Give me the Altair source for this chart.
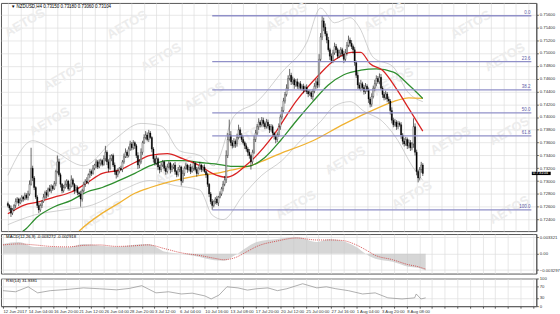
import json
import altair as alt
import pandas as pd

# ---------------- data (prices in pips: 7262 -> 0.7262) ----------------
closes = [
    7262, 7258, 7250, 7255, 7262, 7268, 7272, 7266, 7270, 7275, 7272, 7278, 7274, 7280,
    7295, 7320, 7305,
    7290, 7275, 7262, 7255, 7262, 7268,
    7275, 7282, 7278, 7288, 7285, 7292, 7288, 7296,
    7315, 7330,
    7310, 7295, 7285, 7290,
    7295, 7300, 7288, 7292, 7302, 7295, 7285, 7290, 7282, 7280,
    7272,
    7285, 7295, 7300, 7298, 7310, 7315, 7312, 7320,
    7325, 7330, 7322, 7328, 7332, 7326,
    7335, 7345, 7330, 7320, 7335, 7340, 7325, 7315,
    7310, 7315, 7320, 7318,
    7330, 7338, 7345, 7340, 7350, 7358, 7352, 7360, 7355,
    7340, 7325, 7330, 7345,
    7360, 7368, 7372, 7365, 7375, 7368,
    7350, 7335,
    7328, 7335, 7322, 7318, 7325, 7330, 7320, 7315, 7322, 7328, 7318, 7322,
    7325, 7315, 7310, 7318, 7322, 7300, 7312,
    7320, 7325, 7318, 7322, 7315, 7320, 7328, 7318, 7312, 7320, 7325, 7318, 7322, 7315, 7310,
    7295, 7280, 7268, 7262,
    7268, 7272, 7266, 7275, 7280,
    7288, 7295, 7302,
    7340, 7365, 7372, 7360,
    7355, 7362, 7358, 7368, 7380, 7372, 7365, 7360, 7355, 7350, 7345,
    7340, 7330, 7345, 7365,
    7375, 7385, 7392, 7388, 7395, 7390, 7385, 7392, 7386, 7380, 7385, 7375, 7370,
    7365, 7372,
    7385, 7400, 7410, 7425, 7435, 7445, 7460, 7465,
    7455, 7458, 7450, 7455, 7448, 7452, 7445, 7448, 7442, 7446, 7440, 7436, 7438, 7432, 7440,
    7448, 7455, 7450,
    7490, 7525, 7550,
    7540, 7530, 7520, 7505, 7495, 7488,
    7500, 7510, 7505, 7495,
    7500, 7505, 7498, 7490,
    7500, 7512, 7520, 7515, 7510, 7505,
    7485, 7465, 7450, 7445,
    7452, 7446, 7440, 7448, 7442,
    7428, 7420,
    7432, 7445, 7452, 7460, 7455, 7462,
    7445, 7435,
    7430, 7436, 7428, 7425,
    7410, 7395, 7388,
    7392, 7385, 7390, 7388,
    7372, 7362,
    7358, 7365, 7355, 7360, 7352, 7358,
    7385,
    7345, 7315, 7305,
    7318, 7325, 7312,
]
first_open = 7265

up_wick = [
    3, 2, 4, 3, 2, 5, 3, 2, 4, 3, 2, 4, 3, 5, 6, 32, 4, 3, 2, 3,
    4, 3, 2, 5, 3, 4, 2, 6, 3, 2, 4, 3, 10, 5, 3, 2, 4, 6, 3, 2,
    4, 7, 3, 2, 4, 3, 2, 5, 3, 4, 3, 6, 2, 4, 3, 5, 2, 4, 3, 6,
    3, 2, 5, 10, 3, 4, 6, 2, 3, 4, 3, 5, 2, 4, 3, 5, 6, 3, 4, 5,
    3, 4, 2, 3, 5, 4, 6, 3, 5, 6, 4, 5, 3, 2, 3, 4, 5, 2, 3, 4,
    3, 2, 4, 5, 3, 2, 4, 3, 5, 2, 4, 3, 2, 5, 3, 4, 2, 3, 5, 4,
    3, 2, 4, 3, 5, 2, 3, 4, 2, 3, 2, 3, 4, 2, 3, 5, 2, 4, 3, 5,
    6, 8, 10, 24, 6, 4, 5, 3, 6, 8, 4, 3, 5, 2, 4, 3, 5, 2, 4, 6,
    5, 4, 6, 3, 5, 4, 3, 5, 4, 3, 4, 3, 2, 3, 4, 5, 4, 6, 5, 4,
    6, 5, 10, 4, 5, 3, 4, 5, 3, 4, 3, 4, 3, 5, 2, 4, 3, 4, 5, 4,
    6, 8, 6, 8, 5, 6, 4, 5, 3, 4, 5, 6, 4, 3, 5, 4, 3, 5, 6, 5,
    7, 4, 5, 3, 4, 3, 5, 4, 6, 3, 4, 5, 3, 4, 3, 5, 4, 6, 5, 4,
    6, 5, 3, 4, 5, 3, 4, 3, 5, 4, 5, 3, 4, 3, 4, 3, 5, 4, 3, 5,
    4, 3, 13, 5, 4, 3, 4, 5, 3,
]
dn_wick = [
    3, 4, 6, 3, 2, 4, 3, 5, 2, 3, 4, 2, 3, 4, 3, 2, 5, 4, 3, 4,
    5, 3, 4, 2, 3, 5, 3, 2, 4, 3, 2, 4, 3, 3, 5, 4, 3, 2, 4, 3,
    3, 2, 4, 5, 3, 4, 5, 12, 4, 3, 4, 2, 3, 5, 4, 2, 3, 5, 3, 2,
    4, 3, 2, 4, 5, 6, 3, 4, 3, 5, 6, 4, 3, 2, 4, 3, 2, 4, 3, 3,
    4, 3, 5, 4, 6, 5, 3, 4, 2, 3, 3, 4, 2, 5, 6, 4, 3, 5, 6, 4,
    3, 4, 5, 3, 2, 6, 4, 3, 5, 4, 3, 4, 7, 3, 4, 2, 5, 3, 4, 2,
    4, 3, 5, 2, 3, 4, 3, 2, 5, 4, 5, 4, 7, 3, 4, 3, 5, 2, 3, 4,
    3, 5, 4, 3, 5, 4, 3, 6, 4, 3, 5, 4, 3, 5, 4, 6, 5, 12, 4, 3,
    4, 3, 5, 4, 3, 5, 4, 3, 4, 5, 3, 4, 5, 6, 4, 3, 5, 4, 3, 4,
    3, 4, 3, 5, 4, 6, 3, 4, 5, 3, 4, 5, 3, 4, 5, 3, 4, 6, 3, 4,
    5, 4, 3, 5, 6, 4, 5, 3, 6, 4, 4, 3, 5, 4, 3, 5, 4, 6, 3, 4,
    3, 5, 4, 6, 5, 4, 6, 3, 5, 4, 5, 4, 3, 6, 5, 4, 3, 5, 4, 3,
    4, 3, 5, 4, 3, 5, 4, 6, 5, 4, 3, 5, 4, 3, 6, 5, 4, 3, 5, 4,
    5, 4, 6, 5, 6, 7, 4, 5, 4,
]

# moving averages (candle index, pips)
red_i = [0, 11, 19, 30, 41, 51, 61, 72, 82, 92, 103, 113, 124, 132, 141, 155, 172, 186, 201, 211, 222, 228, 234, 242, 251, 259, 268]
red_v = [7249, 7263, 7267, 7275, 7283, 7297, 7312, 7317, 7329, 7340, 7343, 7335, 7324, 7312, 7306, 7327, 7373, 7424, 7466, 7489, 7501, 7501, 7483, 7473, 7444, 7413, 7378]
green_i = [0, 11, 19, 30, 41, 51, 61, 72, 82, 92, 103, 113, 124, 134, 144, 155, 166, 176, 186, 197, 207, 217, 228, 238, 249, 259, 268]
green_v = [7209, 7224, 7244, 7260, 7270, 7283, 7290, 7301, 7312, 7324, 7332, 7332, 7329, 7327, 7323, 7323, 7337, 7363, 7393, 7424, 7450, 7466, 7473, 7475, 7470, 7450, 7429]
yellow_i = [35, 47, 61, 72, 82, 92, 103, 113, 124, 134, 144, 155, 176, 197, 217, 238, 249, 259, 268]
yellow_v = [7190, 7224, 7250, 7266, 7281, 7290, 7298, 7304, 7309, 7312, 7317, 7323, 7343, 7363, 7389, 7413, 7424, 7430, 7429]

# Bollinger bands
bb_up_i = [0, 16, 30, 49, 68, 86, 99, 111, 124, 133, 146, 161, 177, 193, 202, 211, 221, 227, 236, 249, 258, 268]
bb_up_v = [7309, 7363, 7347, 7324, 7363, 7390, 7386, 7347, 7340, 7324, 7401, 7424, 7470, 7516, 7570, 7547, 7555, 7540, 7493, 7478, 7440, 7424]
bb_lo_i = [0, 17, 36, 55, 74, 92, 108, 124, 132, 139, 152, 164, 177, 189, 202, 211, 221, 230, 242, 252, 261, 268]
bb_lo_v = [7232, 7247, 7255, 7263, 7286, 7301, 7293, 7286, 7247, 7240, 7278, 7309, 7332, 7363, 7393, 7417, 7424, 7409, 7393, 7363, 7324, 7301]

# Fibonacci retracement (drawn from the 11 Jul low candle)
fib_start = 132
fib_levels = [7558, 7486.5, 7442.3, 7406.5, 7370.7, 7255]
fib_labels = ["0.0", "23.6", "38.2", "50.0", "61.8", "100.0"]

# MACD (units of 0.0001)
macd_i = [0, 10, 20, 30, 41, 51, 61, 72, 82, 92, 103, 113, 124, 134, 140, 147, 155, 161, 174, 186, 199, 207, 215, 224, 230, 236, 247, 257, 263, 268]
macd_main = [20, 24, 14, 14, 13, 20, 17, 14, 18, 20, 4, 0, -6, -13, -14, -3, 14, 24, 30, 34, 24, 30, 26, 14, 0, -10, -16, -26, -28, -34]
macd_signal = [18, 20, 18, 15, 14, 17, 18, 15, 16, 18, 10, 2, -3, -9, -12, -8, 5, 15, 26, 32, 28, 28, 27, 18, 8, -3, -12, -22, -26, -31]

# RSI(14)
rsi_i = [0, 8, 16, 22, 30, 40, 51, 61, 72, 80, 88, 97, 105, 113, 120, 128, 132, 137, 142, 149, 155, 161, 168, 174, 180, 190, 199, 205, 211, 219, 228, 236, 244, 253, 261, 262, 265, 268]
rsi_v = [56, 52, 70, 48, 56, 60, 66, 63, 59, 64, 74, 48, 52, 44, 47, 37, 26, 40, 70, 66, 58, 63, 66, 56, 63, 81, 66, 70, 63, 56, 44, 48, 30, 26, 30, 44, 26, 30]

# time axis labels (candle index -> text)
label_idx = [0, 16, 32, 48, 64, 80, 96, 112, 128, 144, 160, 176, 192, 208, 224, 240, 256]
label_txt = ["12 Jun 2017", "14 Jun 04:00", "16 Jun 20:00", "21 Jun 12:00", "26 Jun 04:00",
             "28 Jun 20:00", "3 Jul 12:00", "6 Jul 04:00", "10 Jul 16:00", "13 Jul 08:00",
             "17 Jul 20:00", "20 Jul 12:00", "25 Jul 00:00", "27 Jul 16:00", "1 Aug 04:00",
             "3 Aug 20:00", "8 Aug 08:00"]
price_ticks = [0.7240, 0.7260, 0.7280, 0.7300, 0.7320, 0.7340, 0.7360, 0.7380, 0.7400,
               0.7420, 0.7440, 0.7460, 0.7480, 0.7500, 0.7520, 0.7540, 0.7560]

# watermark positions (candle index, pips)
wm_i = [11, 77, 180, 243, 299, 36, 99, 127, 27, 155, 249, 321, 39, 108, 218, 286, 324, 61, 186, 261, 324]
wm_v = [7547, 7544, 7556, 7556, 7544, 7463, 7493, 7432, 7393, 7370, 7455, 7493, 7340, 7317, 7332, 7363, 7378, 7247, 7263, 7278, 7255]

header = "\u25BC NZDUSD,H4  0.73150 0.73180 0.73060 0.73104"
last_price = "0.73104"

# ---------------- build ----------------
FONT = "Liberation Sans"
W = 542
GRID = "#dedede"
XMAX = 338.125
xs = alt.Scale(domain=[-1.25, XMAX], nice=False, zero=False)
ys = alt.Scale(domain=[0.7222, 0.7578], nice=False, zero=False)

grid_vals = list(range(0, 339, 8))
x_axis_grid = alt.Axis(values=grid_vals, grid=True, gridColor=GRID, gridWidth=0.7,
                       labels=False, ticks=False, domain=False, title=None)
y_axis_main = alt.Axis(orient="right", values=price_ticks, format=".5f", labelFontSize=4.3,
                       labelFont=FONT, labelColor="#333333", tickSize=2, tickColor="#555555",
                       domainColor="#555555", grid=True, gridColor=GRID, gridWidth=0.7,
                       labelPadding=1, title=None)

n = len(closes)
opens = [first_open] + closes[:-1]
cdf = pd.DataFrame({
    "i": list(range(n)),
    "o": [v / 10000 for v in opens],
    "c": [v / 10000 for v in closes],
    "h": [(max(o, c) + u) / 10000 for o, c, u in zip(opens, closes, up_wick)],
    "l": [(min(o, c) - d) / 10000 for o, c, d in zip(opens, closes, dn_wick)],
})
cdf["fill"] = ["#ffffff" if c > o else "#000000" for o, c in zip(cdf["o"], cdf["c"])]


def X(field):
    return alt.X(field, type="quantitative", scale=xs, axis=x_axis_grid)


def Y(field):
    return alt.Y(field, type="quantitative", scale=ys, axis=y_axis_main)


def series(ii, vv, color, width, dash=None, interp="monotone"):
    df = pd.DataFrame({"i": ii, "v": [v / 10000 for v in vv]})
    kw = dict(color=color, strokeWidth=width, interpolate=interp, clip=True)
    if dash:
        kw["strokeDash"] = dash
    return alt.Chart(df).mark_line(**kw).encode(x=X("i"), y=Y("v"))


wm_df = pd.DataFrame({"i": wm_i, "v": [v / 10000 for v in wm_v], "t": ["AETOS"] * len(wm_i)})
watermark = alt.Chart(wm_df).mark_text(font=FONT, fontSize=13, fontWeight="bold", angle=330,
                                       color="#ececec", clip=True).encode(x=X("i"), y=Y("v"), text="t:N")

bb_up = series(bb_up_i, bb_up_v, "#b3b3b3", 0.6)
bb_lo = series(bb_lo_i, bb_lo_v, "#b3b3b3", 0.6)
ma_y = series(yellow_i, yellow_v, "#f0b232", 1.3)
ma_g = series(green_i, green_v, "#2f8f2f", 1.3)
ma_r = series(red_i, red_v, "#d92323", 1.3)

wicks = alt.Chart(cdf).mark_rule(color="#000000", strokeWidth=0.6).encode(x=X("i"), y=Y("l"), y2="h")
bodies = alt.Chart(cdf).mark_bar(size=1.2, stroke="#000000", strokeWidth=0.35).encode(
    x=X("i"), y=Y("o"), y2="c", color=alt.Color("fill:N", scale=None))

fib_df = pd.DataFrame({"x0": [fib_start] * len(fib_levels), "x1": [XMAX] * len(fib_levels),
                       "v": [v / 10000 for v in fib_levels], "t": fib_labels})
fib_lines = alt.Chart(fib_df).mark_rule(color="#9090c8", strokeWidth=1.3).encode(
    x=X("x0"), x2="x1", y=Y("v"))
fib_text = alt.Chart(fib_df).mark_text(font=FONT, fontSize=4.5, color="#5c5ca8", align="right",
                                       baseline="bottom", dx=-1, dy=-0.5).encode(
    x=X("x1"), y=Y("v"), text="t:N")

tag_df = pd.DataFrame({"x0": [XMAX + 0.3], "x1": [XMAX + 12.5], "v": [closes[-1] / 10000],
                       "lo": [(closes[-1] - 2.6) / 10000], "hi": [(closes[-1] + 2.6) / 10000],
                       "t": [last_price]})
tag_box = alt.Chart(tag_df).mark_bar(color="#000000").encode(x=X("x0"), x2="x1", y=Y("lo"), y2="hi")
tag_txt = alt.Chart(tag_df).mark_text(font=FONT, fontSize=4.3, color="#ffffff", align="left",
                                      baseline="middle", dx=1).encode(x=X("x0"), y=Y("v"), text="t:N")

hdr_df = pd.DataFrame({"i": [2], "v": [0.7571], "t": [header]})
hdr = alt.Chart(hdr_df).mark_text(font=FONT, fontSize=4.5, color="#000000", align="left",
                                  baseline="middle").encode(x=X("i"), y=Y("v"), text="t:N")

main = alt.layer(watermark, bb_up, bb_lo, ma_y, ma_g, ma_r, wicks, bodies, fib_lines, fib_text,
                 tag_box, tag_txt, hdr).properties(width=W, height=231)

# ---- MACD panel ----
ys_macd = alt.Scale(domain=[-0.0040, 0.0040], nice=False, zero=False)
y_axis_macd = alt.Axis(orient="right", values=[0.003321, 0.0, -0.003297],
                       labelExpr="datum.value == 0 ? '0.00' : format(datum.value, '.6f')",
                       labelFontSize=4.3, labelFont=FONT, labelColor="#333333", tickSize=2,
                       tickColor="#555555", domainColor="#555555", grid=True, gridColor=GRID,
                       gridWidth=0.7, labelPadding=1, title=None)
mdf = pd.DataFrame({"i": macd_i, "m": [v / 10000 for v in macd_main],
                    "s": [v / 10000 for v in macd_signal], "z": [0.0] * len(macd_i)})


def YM(field):
    return alt.Y(field, type="quantitative", scale=ys_macd, axis=y_axis_macd)


macd_area = alt.Chart(mdf).mark_area(color="#c4c4c4", opacity=0.7, interpolate="monotone").encode(
    x=X("i"), y=YM("m"), y2="z")
macd_sig = alt.Chart(mdf).mark_line(color="#cc3333", strokeWidth=0.8, strokeDash=[1, 1],
                                    interpolate="monotone").encode(x=X("i"), y=YM("s"))
macd_lbl_df = pd.DataFrame({"i": [2], "v": [0.0033], "t": ["MACD(12,26,9) -0.003272 -0.002918"]})
macd_lbl = alt.Chart(macd_lbl_df).mark_text(font=FONT, fontSize=4.3, color="#000000", align="left",
                                            baseline="middle").encode(x=X("i"), y=YM("v"), text="t:N")
macd = alt.layer(macd_area, macd_sig, macd_lbl).properties(width=W, height=40)

# ---- RSI panel ----
ys_rsi = alt.Scale(domain=[0, 100], nice=False, zero=False)
y_axis_rsi = alt.Axis(orient="right", values=[0, 30, 70, 100], labelFontSize=4.3, labelFont=FONT,
                      labelColor="#333333", tickSize=2, tickColor="#555555", domainColor="#555555",
                      grid=True, gridColor=GRID, gridWidth=0.7, labelPadding=1, title=None)
lbl_expr = ("indexof({idx}, datum.value) >= 0 ? {txt}[indexof({idx}, datum.value)] : ''"
            .format(idx=json.dumps(label_idx), txt=json.dumps(label_txt)))
x_axis_bottom = alt.Axis(values=grid_vals, grid=True, gridColor=GRID, gridWidth=0.7,
                         labelExpr=lbl_expr, labelFontSize=4.3, labelFont=FONT,
                         labelColor="#333333", labelAlign="left", labelPadding=1,
                         labelOverlap=False, labelFlush=False, tickSize=2, tickColor="#555555",
                         domainColor="#555555", title=None)
rdf = pd.DataFrame({"i": rsi_i, "v": rsi_v})
rsi_line = alt.Chart(rdf).mark_line(color="#8c8c8c", strokeWidth=0.7).encode(
    x=alt.X("i:Q", scale=xs, axis=x_axis_bottom),
    y=alt.Y("v:Q", scale=ys_rsi, axis=y_axis_rsi))
rsi_lbl_df = pd.DataFrame({"i": [2], "v": [90], "t": ["RSI(14) 31.9381"]})
rsi_lbl = alt.Chart(rsi_lbl_df).mark_text(font=FONT, fontSize=4.3, color="#000000", align="left",
                                          baseline="middle").encode(
    x=alt.X("i:Q", scale=xs, axis=x_axis_bottom),
    y=alt.Y("v:Q", scale=ys_rsi, axis=y_axis_rsi), text="t:N")
rsi = alt.layer(rsi_line, rsi_lbl).properties(width=W, height=28)

chart = alt.vconcat(main, macd, rsi, spacing=1).properties(
    padding=0, background="#ffffff"
).configure_view(stroke="#555555", strokeWidth=1)

chart.save("out.html", embed_options={"renderer": "svg", "actions": False})
